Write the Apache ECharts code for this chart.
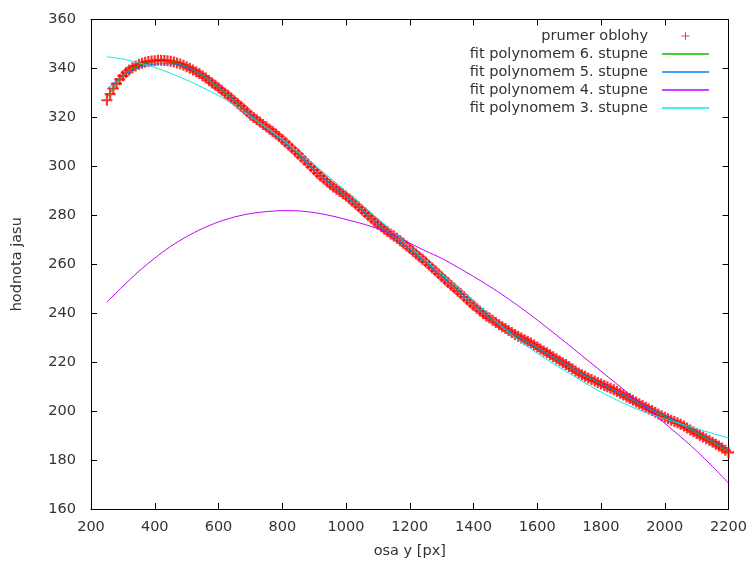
<!DOCTYPE html>
<html>
<head>
<meta charset="utf-8">
<script src="https://cdn.jsdelivr.net/npm/echarts@6/dist/echarts.min.js"></script>
<style>
  html, body { margin: 0; padding: 0; background: #fff; }
  #chart { width: 750px; height: 564px; }
</style>
</head>
<body>
<div id="chart"></div>
<script>
// Measured sky brightness along the y axis (step 10 px)
const skyX = [];
for (let x = 250; x <= 2200; x += 10) skyX.push(x);
const skyVals = [
  327.0, 329.5, 331.8, 333.8, 335.5, 337.0, 338.3, 339.4, 340.3, 341.0,
  341.6, 342.1, 342.5, 342.8, 343.0, 343.1, 343.3, 343.3, 343.2, 343.1,
  342.9, 342.6, 342.2, 341.8, 341.3, 340.7, 340.1, 339.4, 338.7, 337.9,
  337.0, 336.1, 335.1, 334.1, 333.1, 332.1, 331.1, 330.0, 329.0, 327.9,
  326.8, 325.7, 324.6, 323.4, 322.3, 321.0, 320.0, 319.0, 318.1, 317.1,
  316.2, 315.2, 314.2, 313.2, 312.2, 311.0, 309.8, 308.6, 307.4, 306.2,
  305.0, 303.7, 302.4, 301.1, 299.8, 298.5, 297.2, 296.0, 294.8, 293.7,
  292.6, 291.6, 290.6, 289.7, 288.8, 287.9, 286.8, 285.7, 284.5, 283.4,
  282.2, 281.0, 279.8, 278.6, 277.4, 276.3, 275.3, 274.3, 273.4, 272.4,
  271.5, 270.6, 269.6, 268.6, 267.5, 266.4, 265.3, 264.2, 263.1, 262.0,
  260.9, 259.7, 258.5, 257.3, 256.1, 254.9, 253.7, 252.5, 251.3, 250.2,
  249.0, 247.9, 246.7, 245.5, 244.3, 243.1, 242.0, 240.9, 239.9, 238.9,
  238.0, 237.1, 236.2, 235.3, 234.5, 233.7, 232.9, 232.1, 231.3, 230.6,
  229.9, 229.2, 228.5, 227.8, 227.0, 226.2, 225.4, 224.6, 223.8, 223.0,
  222.2, 221.4, 220.6, 219.8, 219.0, 218.2, 217.3, 216.4, 215.6, 214.9,
  214.2, 213.5, 212.9, 212.3, 211.7, 211.1, 210.5, 209.9, 209.3, 208.7,
  208.0, 207.3, 206.6, 205.8, 205.1, 204.4, 203.7, 203.0, 202.3, 201.6,
  200.9, 200.2, 199.5, 198.8, 198.1, 197.5, 196.9, 196.3, 195.8, 195.2,
  194.6, 193.9, 193.1, 192.3, 191.6, 190.8, 190.1, 189.4, 188.7, 188.0,
  187.3, 186.5, 185.7, 184.9, 184.0, 183.1
];

// Fitted polynomial curves, sampled every 50 px
const fitX = [];
for (let x = 250; x <= 2200; x += 50) fitX.push(x);
const fit6 = [
  327.8, 337.2, 341.3, 342.9, 342.8, 340.6, 337.0, 332.2, 326.8, 321.0,
  315.6, 310.6, 304.8, 298.7, 292.8, 287.6, 282.0, 276.4, 271.0, 265.9,
  260.7, 255.2, 249.5, 243.6, 238.2, 233.5, 229.4, 225.6, 222.0, 218.3,
  214.6, 211.1, 207.8, 204.5, 201.2, 197.9, 194.6, 191.0, 187.2, 183.2
];
const fit5 = [
  331.5, 337.0, 340.3, 341.8, 341.9, 340.5, 337.3, 332.6, 327.1, 321.2,
  315.6, 310.4, 304.7, 298.7, 292.9, 287.6, 282.1, 276.5, 271.1, 265.9,
  260.6, 255.1, 249.4, 243.6, 238.3, 233.7, 229.6, 225.8, 222.1, 218.4,
  214.7, 211.2, 207.9, 204.6, 201.3, 198.1, 194.9, 191.4, 187.8, 184.3
];
const fit4 = [
  244.5, 251.0, 257.1, 262.5, 267.3, 271.3, 274.6, 277.3, 279.3, 280.7,
  281.5, 281.9, 281.8, 281.1, 279.9, 278.3, 276.6, 274.5, 271.8, 268.6,
  265.4, 262.4, 258.8, 255.0, 251.0, 246.7, 242.1, 237.2, 232.1, 226.9,
  221.6, 216.3, 211.0, 205.7, 200.4, 195.0, 189.5, 183.7, 177.3, 170.6
];
const fit3 = [
  344.8, 343.8, 342.3, 340.4, 338.0, 335.3, 332.2, 328.9, 325.0, 320.3,
  315.8, 311.0, 305.9, 300.7, 295.3, 289.8, 284.2, 278.6, 272.9, 267.2,
  261.6, 256.0, 250.5, 245.0, 239.4, 233.2, 228.2, 223.6, 219.4, 215.5,
  211.5, 207.8, 204.5, 201.5, 199.0, 196.8, 194.8, 192.8, 190.9, 189.0
];

const xTicks = { min: 200, max: 2200, interval: 200 };
const yTicks = { min: 160, max: 360, interval: 20 };

const seriesNames = [
  'prumer oblohy',
  'fit polynomem 6. stupne',
  'fit polynomem 5. stupne',
  'fit polynomem 4. stupne',
  'fit polynomem 3. stupne'
];

const FONT = 'DejaVu Sans';
const FSIZE = 14.5;
const TEXT = '#333333';
const PLUS = 'path://M4,0 L6,0 L6,4 L10,4 L10,6 L6,6 L6,10 L4,10 L4,6 L0,6 L0,4 L4,4 Z';
const PLUS_THIN = 'path://M4.4,0 L5.6,0 L5.6,4.4 L10,4.4 L10,5.6 L5.6,5.6 L5.6,10 L4.4,10 L4.4,5.6 L0,5.6 L0,4.4 L4.4,4.4 Z';
const LINE_ICON = 'path://M0,0 L47,0 L47,1.4 L0,1.4 Z';

const pairs = (xs, ys) => xs.map((x, i) => [x, ys[i]]);
const plain = v => String(v);

function fitSeries(name, ys, color) {
  return {
    name: name,
    type: 'line',
    data: pairs(fitX, ys),
    symbol: 'none',
    smooth: 0.3,
    lineStyle: { color: color, width: 1 },
    itemStyle: { color: color },
    xAxisIndex: 0,
    yAxisIndex: 0
  };
}

const axisLine = { show: true, onZero: false, lineStyle: { color: '#000', width: 1 } };
const axisTick = { show: true, inside: true, length: 6, lineStyle: { color: '#000', width: 1 } };
const textStyle = { fontFamily: FONT, fontSize: FSIZE, color: TEXT };

const chart = echarts.init(document.getElementById('chart'), null, { renderer: 'canvas' });
chart.setOption({
  animation: false,
  backgroundColor: '#ffffff',
  grid: { left: 91, right: 19, top: 19.5, bottom: 55 },
  legend: {
    orient: 'vertical',
    right: 36,
    top: 22,
    align: 'right',
    itemWidth: 47,
    itemHeight: 8,
    itemGap: 0,
    symbolKeepAspect: true,
    data: seriesNames.map((n, i) => ({ name: n, icon: i === 0 ? PLUS_THIN : LINE_ICON })),
    textStyle: { ...textStyle, lineHeight: 18, padding: [0, 9, 0, 0] }
  },
  xAxis: [
    {
      type: 'value', position: 'bottom', ...xTicks,
      axisLine: axisLine, axisTick: axisTick, splitLine: { show: false },
      axisLabel: { ...textStyle, margin: 11, formatter: plain },
      name: 'osa y [px]', nameLocation: 'middle', nameGap: 35,
      nameTextStyle: textStyle
    },
    {
      type: 'value', position: 'top', ...xTicks,
      axisLine: axisLine, axisTick: axisTick, splitLine: { show: false },
      axisLabel: { show: false }
    }
  ],
  yAxis: [
    {
      type: 'value', position: 'left', ...yTicks,
      axisLine: axisLine, axisTick: axisTick, splitLine: { show: false },
      axisLabel: { ...textStyle, margin: 15, formatter: plain },
      name: 'hodnota jasu', nameLocation: 'middle', nameGap: 66,
      nameTextStyle: textStyle
    },
    {
      type: 'value', position: 'right', ...yTicks,
      axisLine: axisLine, axisTick: axisTick, splitLine: { show: false },
      axisLabel: { show: false }
    }
  ],
  series: [
    {
      name: seriesNames[0],
      type: 'scatter',
      data: pairs(skyX, skyVals),
      symbol: PLUS,
      symbolSize: 11,
      itemStyle: { color: '#ff0000' },
      xAxisIndex: 0,
      yAxisIndex: 0
    },
    fitSeries(seriesNames[1], fit6, '#00c000'),
    fitSeries(seriesNames[2], fit5, '#0080ff'),
    fitSeries(seriesNames[3], fit4, '#c000ff'),
    fitSeries(seriesNames[4], fit3, '#00eeee')
  ]
});
</script>
</body>
</html>
